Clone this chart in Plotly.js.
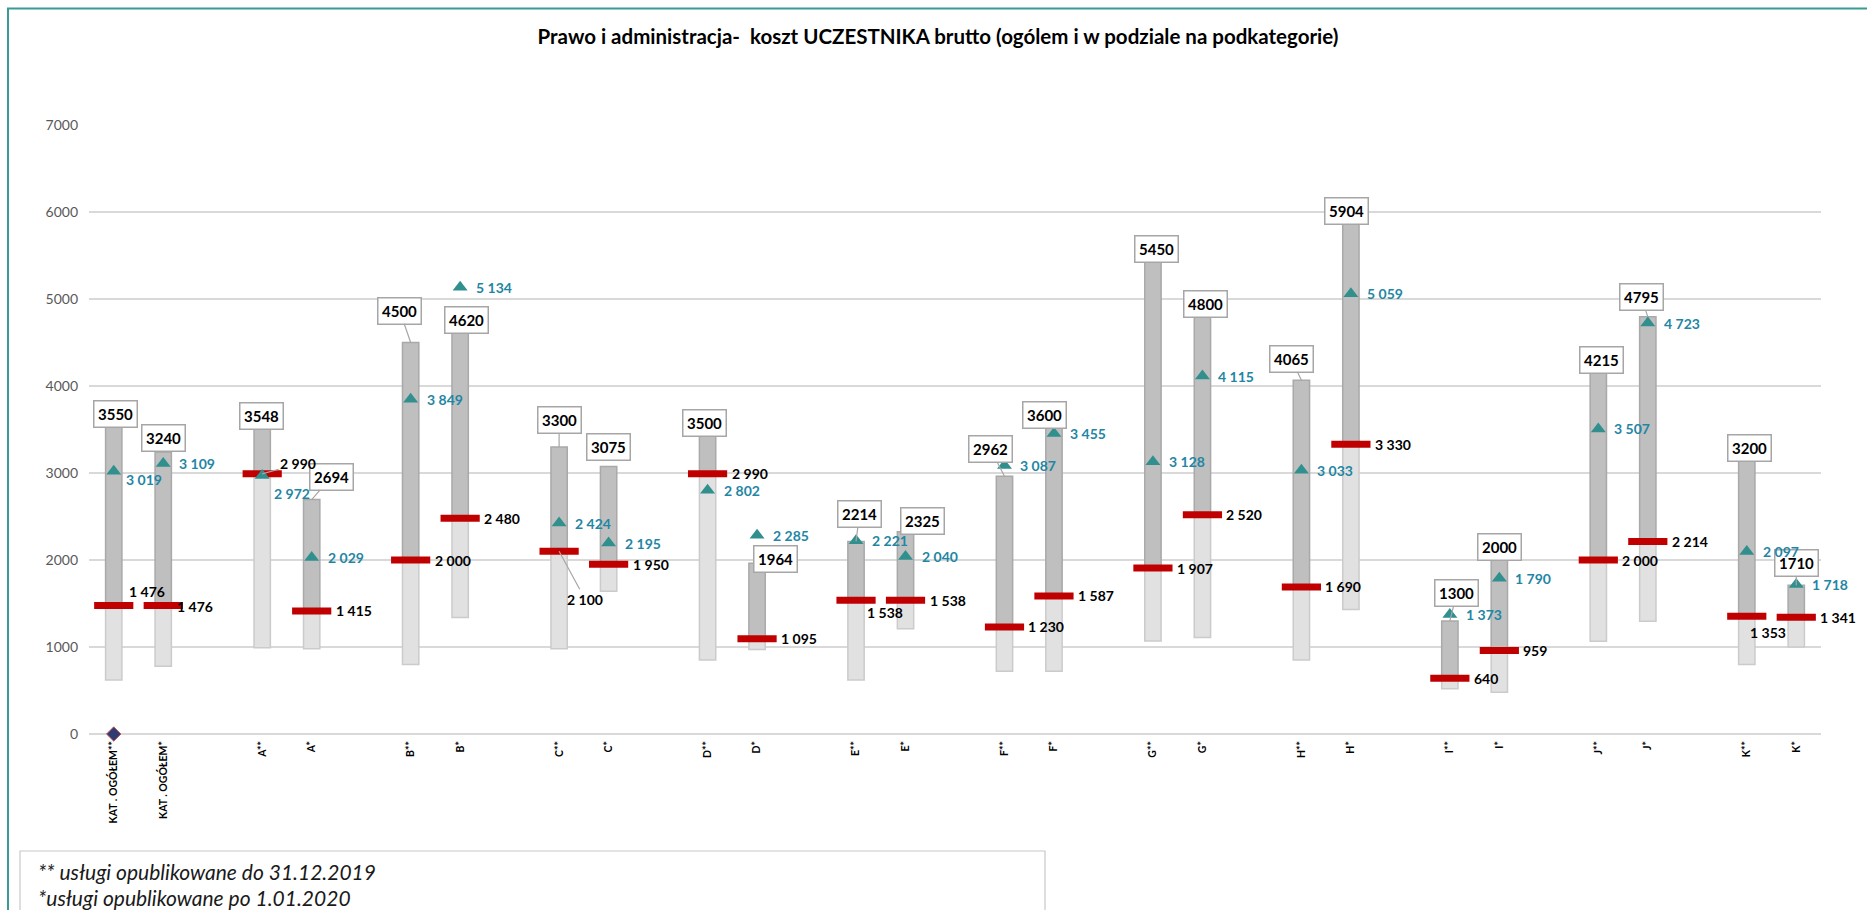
<!DOCTYPE html>
<html>
<head>
<meta charset="utf-8">
<script src="https://cdn.plot.ly/plotly-3.0.1.min.js"></script>
<style>
  html, body { margin: 0; padding: 0; background: #ffffff; }
  #chart { width: 1867px; height: 910px; }
</style>
</head>
<body>
<div id="chart"></div>
<script>
// ---- data ----
const categories = ['KAT . OGÓŁEM**', 'KAT . OGÓŁEM*', 'A**', 'A*', 'B**', 'B*', 'C**', 'C*', 'D**', 'D*',
  'E**', 'E*', 'F**', 'F*', 'G**', 'G*', 'H**', 'H*', 'I**', 'I*', 'J**', 'J*', 'K**', 'K*'];
const minValues = [620, 780, 990, 980, 800, 1340, 980, 1640, 850, 970,
  620, 1210, 720, 720, 1070, 1110, 850, 1430, 520, 480, 1065, 1295, 800, 1000];
const medianValues = [1476, 1476, 2990, 1415, 2000, 2480, 2100, 1950, 2990, 1095,
  1538, 1538, 1230, 1587, 1907, 2520, 1690, 3330, 640, 959, 2000, 2214, 1353, 1341];
const meanValues = [3019, 3109, 2972, 2029, 3849, 5134, 2424, 2195, 2802, 2285,
  2221, 2040, 3087, 3455, 3128, 4115, 3033, 5059, 1373, 1790, 3507, 4723, 2097, 1718];
const maxValues = [3550, 3240, 3548, 2694, 4500, 4620, 3300, 3075, 3500, 1964,
  2214, 2325, 2962, 3600, 5450, 4800, 4065, 5904, 1300, 2000, 4215, 4795, 3200, 1710];
const zeroMarkerCategory = ['KAT . OGÓŁEM**'];
const zeroMarkerValue = [0];
const yTickValues = [0, 1000, 2000, 3000, 4000, 5000, 6000, 7000];
const chartTitle = 'Prawo i administracja-  koszt UCZESTNIKA brutto (ogólem i w podziale na podkategorie)';
const noteLines = ['** usługi opublikowane do 31.12.2019', '*usługi opublikowane po 1.01.2020'];

// ---- layout helpers (label placement, pixels) ----
// max-label box offsets [dx, dy, leaderLine]
const maxLabelOffsets = [
  [1.5, -11, false], [0, -14, false], [-1, -9, false], [20, -23, true], [-11, -32, true], [6.5, -12, false],
  [0, -27, true], [0, -19, false], [-3, -7, false], [18.5, -4, false], [3.4, -27, true], [17, -11, false],
  [-14, -27, true], [-9.6, -6, false], [3.7, -11, false], [3, -12.5, false], [-10, -21, true], [-4, -9, false],
  [7, -28, true], [0, -13.5, false], [3, -7, false], [-6.5, -20, true], [3, -8, false], [0, -22, true]
];
// mean label [dxLeft, dyDown]
const meanLabelOffsets = {0: [12.7, 7.7], 2: [12, 17.6]};
// median label [dxLeft, dyDown] or leader [dxCenter, dyDown, true]
const medianLabelOffsets = {0: [15.3, -13.6], 1: [13.7, 1.4], 2: [36, -10, true], 6: [26, 48, true],
  10: [10.7, 12.8], 22: [3.5, 16.7]};

const xPos = categories.map((c, i) => Math.floor(i / 2) * 3 + (i % 2));
const zeroPos = zeroMarkerCategory.map(c => xPos[categories.indexOf(c)]);

function fmt(v) {
  return String(v).replace(/\B(?=(\d{3})+(?!\d))/g, ' ');
}

const FONT = 'Lato, "Open Sans", "DejaVu Sans", sans-serif';
const W = 1867, H = 910;
const M = {l: 89, r: 46, t: 125, b: 176};
const pw = W - M.l - M.r, ph = H - M.t - M.b;
const px2x = p => (p - M.l) / pw;
const px2y = p => (H - M.b - p) / ph;

const barW = 0.33;

const traces = [
  {
    type: 'bar', x: xPos, base: minValues,
    y: medianValues.map((m, i) => m - minValues[i]),
    width: barW, marker: {color: '#e1e1e1', line: {color: '#cbcbcb', width: 1.5}},
    hoverinfo: 'skip'
  },
  {
    type: 'bar', x: xPos, base: medianValues,
    y: maxValues.map((m, i) => m - medianValues[i]),
    width: barW, marker: {color: '#bfbfbf', line: {color: '#a9a9a9', width: 1.5}},
    hoverinfo: 'skip'
  },
  {
    type: 'scatter', mode: 'markers', x: xPos, y: medianValues,
    marker: {symbol: 'line-ew', size: 28, color: '#c00000', line: {color: '#c00000', width: 7}},
    hoverinfo: 'skip'
  },
  {
    type: 'scatter', mode: 'markers', x: xPos, y: meanValues,
    marker: {symbol: 'triangle-up', size: 13, color: '#31908e'},
    hoverinfo: 'skip'
  },
  {
    type: 'scatter', mode: 'markers', x: zeroPos, y: zeroMarkerValue,
    marker: {symbol: 'diamond', size: 11, color: '#2f3c74', line: {color: '#c0504d', width: 1}},
    hoverinfo: 'skip', cliponaxis: false
  }
];

const annotations = [];
// max labels
maxValues.forEach((v, i) => {
  const [dx, dy, leader] = maxLabelOffsets[i];
  const a = {
    x: xPos[i], y: v, xref: 'x', yref: 'y', text: String(v),
    font: {family: FONT, size: 15, color: '#000000', weight: 'bold'},
    bgcolor: '#ffffff', bordercolor: '#a6a6a6', borderwidth: 1.5, borderpad: 3.5,
  };
  if (leader) {
    Object.assign(a, {showarrow: true, arrowhead: 0, arrowwidth: 1.2, arrowcolor: '#a6a6a6',
      ax: dx, ay: dy, standoff: 0, xanchor: 'center', yanchor: 'middle'});
  } else {
    Object.assign(a, {showarrow: false, xshift: dx, yshift: -dy, xanchor: 'center', yanchor: 'middle'});
  }
  annotations.push(a);
});
// mean labels
meanValues.forEach((v, i) => {
  const o = meanLabelOffsets[i] || [16, 0];
  annotations.push({
    x: xPos[i], y: v, xref: 'x', yref: 'y', text: fmt(v), showarrow: false,
    xanchor: 'left', yanchor: 'middle', xshift: o[0] - 2, yshift: -o[1],
    font: {family: FONT, size: 14, color: '#1f86a4', weight: 'bold'}
  });
});
// median labels
medianValues.forEach((v, i) => {
  const o = medianLabelOffsets[i] || [24, 0];
  const base = {x: xPos[i], y: v, xref: 'x', yref: 'y', text: fmt(v),
    font: {family: FONT, size: 14, color: '#000000', weight: 'bold'}};
  if (o[2]) {
    Object.assign(base, {showarrow: true, arrowhead: 0, arrowwidth: 1.2, arrowcolor: '#a6a6a6',
      ax: o[0], ay: o[1], standoff: 0, xanchor: 'center', yanchor: 'middle'});
  } else {
    Object.assign(base, {showarrow: false, xanchor: 'left', yanchor: 'middle', xshift: o[0] - 2, yshift: -o[1]});
  }
  annotations.push(base);
});
// notes
noteLines.forEach((t, k) => {
  annotations.push({
    xref: 'paper', yref: 'paper', x: px2x(36), y: px2y(871 + 26 * k), text: t,
    showarrow: false, xanchor: 'left', yanchor: 'middle',
    font: {family: FONT, size: 21, color: '#1a1a1a', style: 'italic'}
  });
});

const shapes = [
  {type: 'rect', xref: 'paper', yref: 'paper', x0: px2x(8), x1: px2x(1890), y0: px2y(8.5), y1: px2y(940),
    line: {color: '#3a9a96', width: 2}, fillcolor: 'rgba(0,0,0,0)', layer: 'below'},
  {type: 'rect', xref: 'paper', yref: 'paper', x0: px2x(20), x1: px2x(1045), y0: px2y(851), y1: px2y(930),
    line: {color: '#c8c8c8', width: 1.2}, fillcolor: '#ffffff', layer: 'below'}
];

const layout = {
  width: W, height: H,
  margin: M,
  paper_bgcolor: '#ffffff', plot_bgcolor: '#ffffff',
  showlegend: false,
  barmode: 'overlay',
  title: {
    text: chartTitle, xref: 'container', yref: 'container', x: 938 / W, y: 1 - 37 / H,
    xanchor: 'center', yanchor: 'middle',
    font: {family: FONT, size: 20.5, color: '#000000', weight: 'bold'}
  },
  xaxis: {
    range: [-0.5, 34.5], tickvals: xPos, ticktext: categories, tickangle: -90,
    tickfont: {family: FONT, size: 10.5, color: '#000000', weight: 'bold'},
    showgrid: false, zeroline: false, showline: false, ticks: '', ticklabelstandoff: 4, fixedrange: true
  },
  yaxis: {
    range: [0, 7000], tickvals: yTickValues, ticktext: yTickValues.map(String),
    tickfont: {family: FONT, size: 14, color: '#595959'},
    showgrid: true, gridcolor: '#d9d9d9', gridwidth: 1.5,
    zeroline: true, zerolinecolor: '#d9d9d9', zerolinewidth: 1.5,
    showline: false, ticks: '', ticklabelstandoff: 10, fixedrange: true
  },
  annotations: annotations,
  shapes: shapes
};

Plotly.newPlot('chart', traces, layout, {displayModeBar: false, staticPlot: true});
</script>
</body>
</html>
